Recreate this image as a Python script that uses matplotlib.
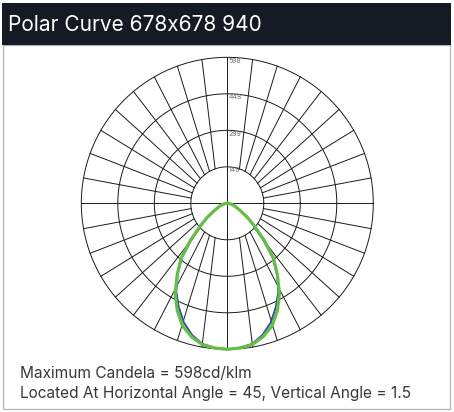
import numpy as np
import matplotlib
matplotlib.use("Agg")
import matplotlib.pyplot as plt
from matplotlib.patches import Rectangle

W, H = 454, 412
plt.rcParams["font.family"] = ["Inter", "DejaVu Sans"]

TITLE = "Polar Curve 678x678 940"
INFO = ["Maximum Candela = 598cd/klm",
        "Located At Horizontal Angle = 45, Vertical Angle = 1.5"]

RING_VALUES = [149.5, 299, 448.5, 598]
RING_LABELS = ["149", "299", "448", "598"]
SPOKE_STEP = 10

gamma = [0, 5, 10, 15, 20, 25, 30, 35, 40, 45, 50, 55, 60, 65, 70, 75, 80, 85, 90]
c0_180 = [598, 594, 585, 558, 520, 470, 418, 355, 289, 204, 140, 98, 62, 43, 31, 21, 12, 5, 0]
c90_270 = [598, 595, 588, 566, 535, 485, 427, 358, 295, 212, 145, 100, 64, 44, 32, 22, 12, 5, 0]

# chart placement in pixels
CX, CY, R_PX, HALF_PX = 227.3, 203.3, 146.0, 150.0
R_MAX = RING_VALUES[-1]
LIM = R_MAX * HALF_PX / R_PX
SHIFT = 8 * R_MAX / R_PX   # spokes in the source are not quite radial


def spoke(theta_deg, r_in, r_out, shift):
    t = np.radians(theta_deg)
    ox, oy = r_out * np.sin(t), r_out * np.cos(t)
    px, py = shift * np.sign(ox), 0.0
    dx, dy = px - ox, py - oy
    a = dx * dx + dy * dy
    b = 2 * (ox * dx + oy * dy)
    c = ox * ox + oy * oy - r_in * r_in
    s = (-b - np.sqrt(b * b - 4 * a * c)) / (2 * a)
    return [ox, ox + s * dx], [oy, oy + s * dy]


def curve_xy(g, cd):
    g = np.radians(np.asarray(g, float))
    cd = np.asarray(cd, float)
    x = np.concatenate([-(cd * np.sin(g))[::-1], (cd * np.sin(g))[1:]])
    y = np.concatenate([-(cd * np.cos(g))[::-1], -(cd * np.cos(g))[1:]])
    return x, y


fig = plt.figure(figsize=(W / 100, H / 100), dpi=100)
fig.patch.set_facecolor("white")

# panel frame + dark header
fig.add_artist(Rectangle((2.5 / W, 1 - 408.5 / H), 447 / W, 364 / H,
                         transform=fig.transFigure, fill=False,
                         edgecolor="#b4b4b4", lw=0.9))
fig.add_artist(Rectangle((2 / W, 1 - 45 / H), 448.5 / W, 42 / H,
                         transform=fig.transFigure, facecolor="#141b24",
                         edgecolor="none"))
fig.text(8 / W, 1 - 25 / H, TITLE, color="white", fontsize=15, va="center")
fig.text(20 / W, 1 - 378 / H, INFO[0], color="#383838", fontsize=11.1, va="baseline")
fig.text(20 / W, 1 - 398 / H, INFO[1], color="#383838", fontsize=11.1, va="baseline")

ax = fig.add_axes([(CX - HALF_PX) / W, (H - CY - HALF_PX) / H,
                   2 * HALF_PX / W, 2 * HALF_PX / H])
ax.set_xlim(-LIM, LIM)
ax.set_ylim(-LIM, LIM)
ax.set_aspect("equal")
ax.axis("off")

grid_kw = dict(color="#1a1a1a", lw=0.7, zorder=1)
th = np.linspace(0, 2 * np.pi, 400)
for r in RING_VALUES:
    ax.plot(r * np.cos(th), r * np.sin(th), **grid_kw)
ax.plot([-R_MAX, R_MAX], [0, 0], **grid_kw)
ax.plot([0, 0], [-R_MAX, R_MAX], **grid_kw)
for a in range(SPOKE_STEP, 360, SPOKE_STEP):
    if a % 90 == 0:
        continue
    xs, ys = spoke(a, RING_VALUES[0], R_MAX, SHIFT)
    ax.plot(xs, ys, **grid_kw)

for r, lab in zip(RING_VALUES, RING_LABELS):
    ax.text(4, r - 15, lab, fontsize=5, color="#707070", ha="left", va="center")

bx, by = curve_xy(gamma, c0_180)
gx, gy = curve_xy(gamma, c90_270)
ax.plot(bx, by, color="#2f4fa5", lw=1.4, zorder=3, solid_joinstyle="round")
ax.plot(gx, gy, color="#66bd47", lw=2.3, zorder=4, solid_joinstyle="round")

fig.savefig("out.png", dpi=100)
